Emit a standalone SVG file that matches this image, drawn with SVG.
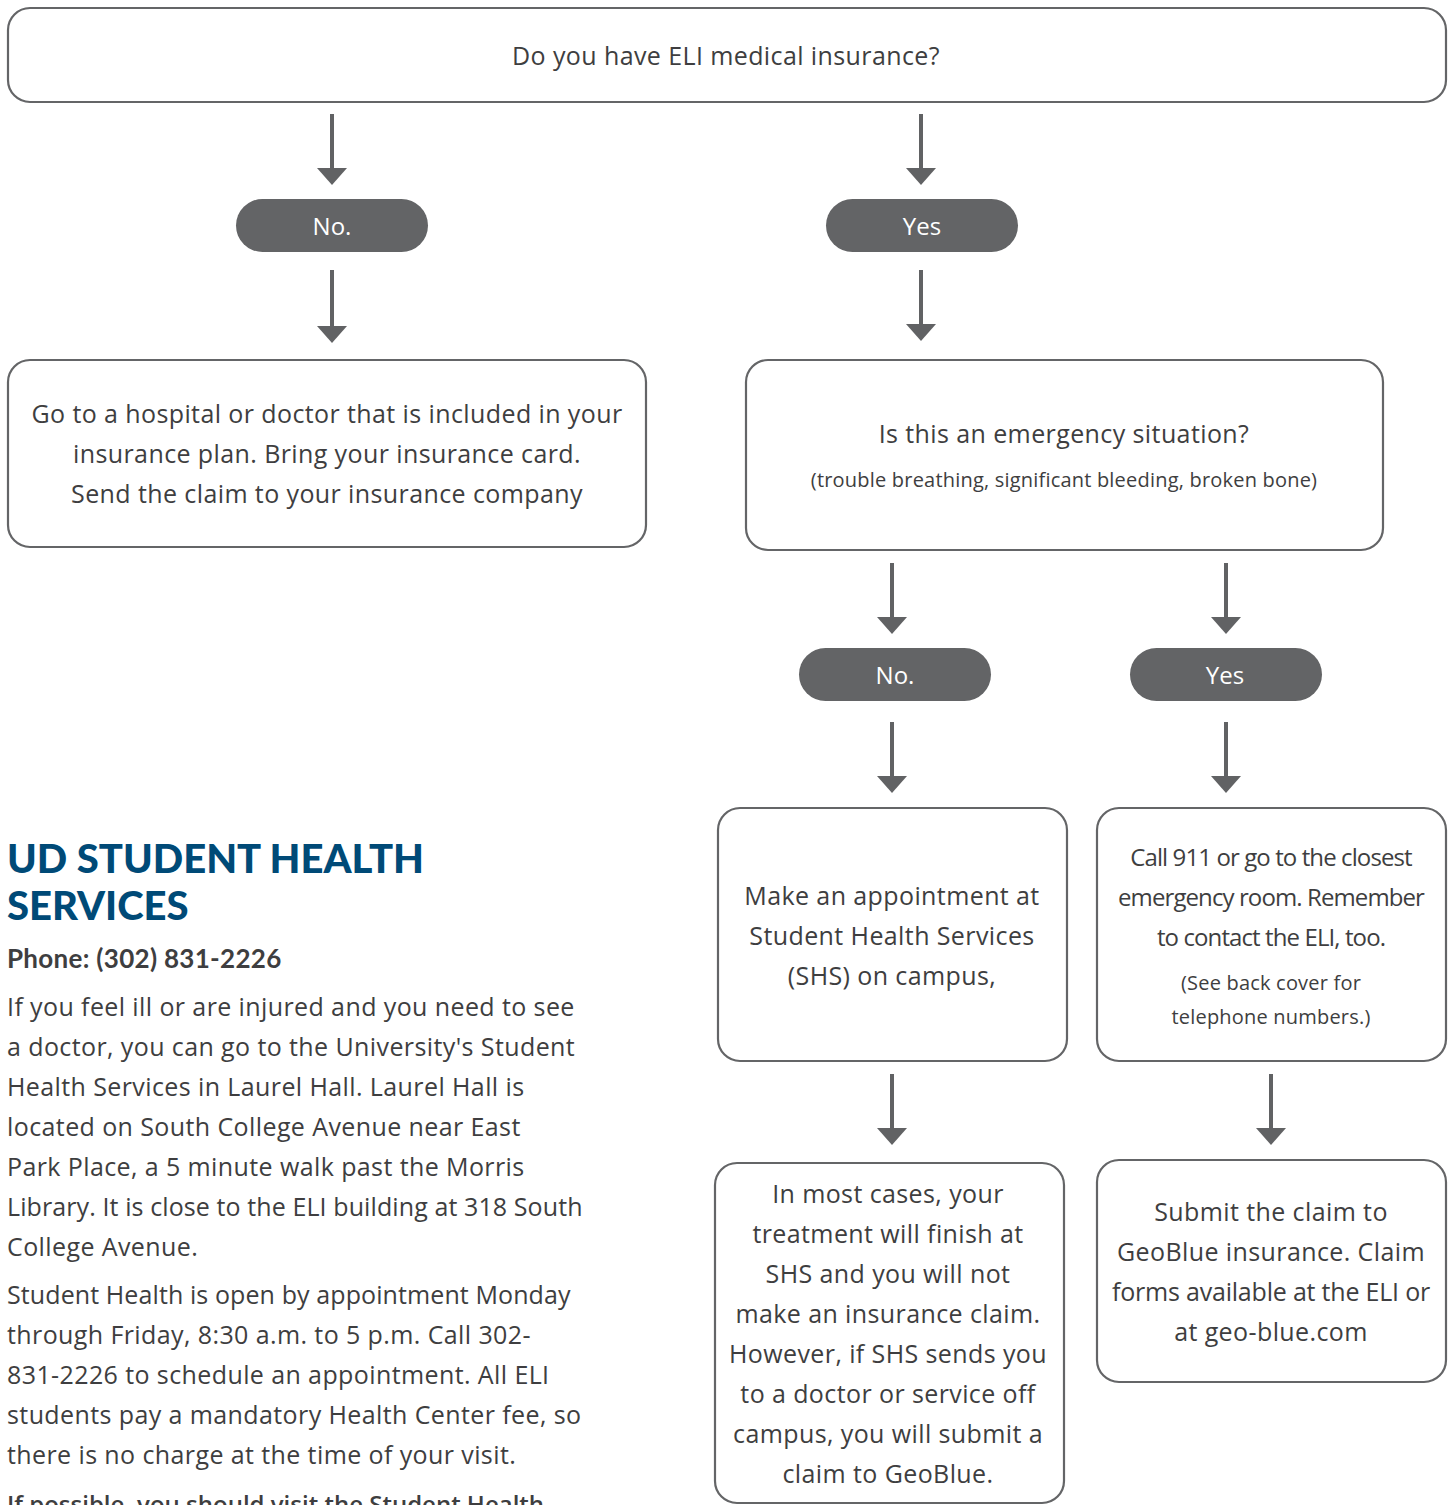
<svg xmlns="http://www.w3.org/2000/svg" width="1453" height="1505" viewBox="0 0 1453 1505">
<defs>
<marker id="ah" viewBox="0 0 17 30" refX="0" refY="15" markerWidth="17" markerHeight="30" markerUnits="userSpaceOnUse" orient="auto">
<path d="M0,0 L17,15 L0,30 Z" fill="#616264"/>
</marker>
</defs>
<style>
.box{fill:#fff;stroke:#646567;stroke-width:2.2}
.pill{fill:#636466}
.t{font-family:"Open Sans",Lato,sans-serif;fill:#3e3e40;text-anchor:middle}
.m{font-size:25px;letter-spacing:0.4px}
.s{font-size:20px;letter-spacing:0.2px}
.c{font-size:24px;letter-spacing:-0.9px}
.pt{font-family:"Open Sans",Lato,sans-serif;font-size:24px;fill:#fff;text-anchor:middle}
.conn line{stroke:#616264;stroke-width:4}
.body{font-family:"Open Sans",Lato,sans-serif;font-size:25px;letter-spacing:0.4px;fill:#3e3e40}
.h{font-family:Lato,"Noto Sans",sans-serif;font-weight:900;font-size:40px;fill:#004a77}
</style>
<rect width="1453" height="1505" fill="#fff"/>

<g id="connectors" class="conn">
<line x1="332" y1="114" x2="332" y2="168" marker-end="url(#ah)"/>
<line x1="921" y1="114" x2="921" y2="168" marker-end="url(#ah)"/>
<line x1="332" y1="270" x2="332" y2="326" marker-end="url(#ah)"/>
<line x1="921" y1="270" x2="921" y2="324" marker-end="url(#ah)"/>
<line x1="892" y1="563" x2="892" y2="617" marker-end="url(#ah)"/>
<line x1="1226" y1="563" x2="1226" y2="617" marker-end="url(#ah)"/>
<line x1="892" y1="722" x2="892" y2="776" marker-end="url(#ah)"/>
<line x1="1226" y1="722" x2="1226" y2="776" marker-end="url(#ah)"/>
<line x1="892" y1="1074" x2="892" y2="1128" marker-end="url(#ah)"/>
<line x1="1271" y1="1074" x2="1271" y2="1128" marker-end="url(#ah)"/>
</g>

<g id="q1">
<rect class="box" x="8" y="8" width="1438" height="94" rx="22"/>
<text class="t m" x="726" y="65">Do you have ELI medical insurance?</text>
</g>

<g id="no1">
<rect class="pill" x="236" y="199" width="192" height="53" rx="26.5"/>
<text class="pt" x="332" y="235">No.</text>
</g>
<g id="yes1">
<rect class="pill" x="826" y="199" width="192" height="53" rx="26.5"/>
<text class="pt" x="922" y="235">Yes</text>
</g>

<g id="other">
<rect class="box" x="8" y="360" width="638" height="187" rx="22"/>
<text class="t m" x="327" y="423">Go to a hospital or doctor that is included in your</text>
<text class="t m" x="327" y="463">insurance plan. Bring your insurance card.</text>
<text class="t m" x="327" y="503">Send the claim to your insurance company</text>
</g>

<g id="q2">
<rect class="box" x="746" y="360" width="637" height="190" rx="22"/>
<text class="t m" x="1064" y="443">Is this an emergency situation?</text>
<text class="t s" x="1064" y="487">(trouble breathing, significant bleeding, broken bone)</text>
</g>

<g id="no2">
<rect class="pill" x="799" y="648" width="192" height="53" rx="26.5"/>
<text class="pt" x="895" y="684">No.</text>
</g>
<g id="yes2">
<rect class="pill" x="1130" y="648" width="192" height="53" rx="26.5"/>
<text class="pt" x="1225" y="684">Yes</text>
</g>

<g id="shs">
<rect class="box" x="718" y="808" width="349" height="253" rx="22"/>
<text class="t m" x="892" y="905">Make an appointment at</text>
<text class="t m" x="892" y="945">Student Health Services</text>
<text class="t m" x="892" y="985">(SHS) on campus,</text>
</g>

<g id="er">
<rect class="box" x="1097" y="808" width="349" height="253" rx="22"/>
<text class="t c" x="1271" y="866">Call 911 or go to the closest</text>
<text class="t c" x="1271" y="906">emergency room. Remember</text>
<text class="t c" x="1271" y="946">to contact the ELI, too.</text>
<text class="t s" x="1271" y="990">(See back cover for</text>
<text class="t s" x="1271" y="1024">telephone numbers.)</text>
</g>

<g id="most">
<rect class="box" x="715" y="1163" width="349" height="340" rx="22"/>
<text class="t m" x="888" y="1203">In most cases, your</text>
<text class="t m" x="888" y="1243">treatment will finish at</text>
<text class="t m" x="888" y="1283">SHS and you will not</text>
<text class="t m" x="888" y="1323">make an insurance claim.</text>
<text class="t m" x="888" y="1363">However, if SHS sends you</text>
<text class="t m" x="888" y="1403">to a doctor or service off</text>
<text class="t m" x="888" y="1443">campus, you will submit a</text>
<text class="t m" x="888" y="1483">claim to GeoBlue.</text>
</g>

<g id="submit">
<rect class="box" x="1097" y="1160" width="349" height="222" rx="22"/>
<text class="t m" x="1271" y="1221">Submit the claim to</text>
<text class="t m" x="1271" y="1261">GeoBlue insurance. Claim</text>
<text class="t m" x="1271" y="1301" style="letter-spacing:-0.2px">forms available at the ELI or</text>
<text class="t m" x="1271" y="1341">at geo-blue.com</text>
</g>

<g id="info">
<text class="h" x="7" y="873">UD STUDENT HEALTH</text>
<text class="h" x="7" y="920">SERVICES</text>
<text x="7" y="968" style="font-weight:700;font-family:Lato,sans-serif;font-size:26px;letter-spacing:0.3px;fill:#3e3e40">Phone: (302) 831-2226</text>
<text class="body" x="7" y="1016">If you feel ill or are injured and you need to see</text>
<text class="body" x="7" y="1056">a doctor, you can go to the University's Student</text>
<text class="body" x="7" y="1096">Health Services in Laurel Hall. Laurel Hall is</text>
<text class="body" x="7" y="1136">located on South College Avenue near East</text>
<text class="body" x="7" y="1176">Park Place, a 5 minute walk past the Morris</text>
<text class="body" x="7" y="1216" style="letter-spacing:0.1px">Library. It is close to the ELI building at 318 South</text>
<text class="body" x="7" y="1256">College Avenue.</text>
<text class="body" x="7" y="1304" style="letter-spacing:0.1px">Student Health is open by appointment Monday</text>
<text class="body" x="7" y="1344">through Friday, 8:30 a.m. to 5 p.m. Call 302-</text>
<text class="body" x="7" y="1384">831-2226 to schedule an appointment. All ELI</text>
<text class="body" x="7" y="1424">students pay a mandatory Health Center fee, so</text>
<text class="body" x="7" y="1464">there is no charge at the time of your visit.</text>
<text class="body" x="7" y="1513" style="font-weight:600;font-size:24px;letter-spacing:0px">If possible, you should visit the Student Health</text>
</g>
</svg>
